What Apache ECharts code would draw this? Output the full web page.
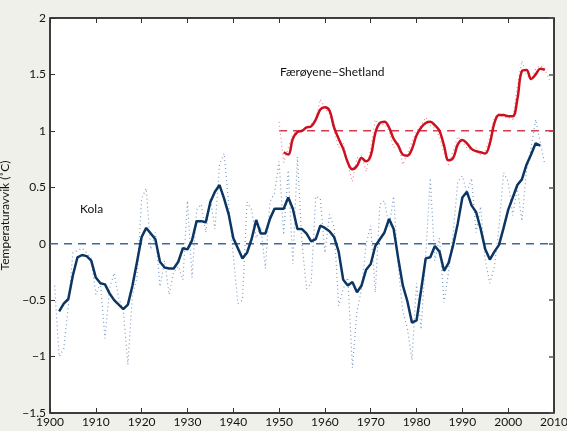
<!DOCTYPE html>
<html>
<head>
<meta charset="utf-8">
<script src="https://cdn.jsdelivr.net/npm/echarts@6/dist/echarts.min.js"></script>
<style>
html,body{margin:0;padding:0;background:#f0f0eb;}
#c{width:567px;height:431px;}
</style>
</head>
<body>
<div id="c"></div>
<script>
var kolaYears = [];
for (var y = 1901; y <= 2008; y++) kolaYears.push(y);
var kolaAnnual = [-0.37,-1.00,-0.93,-0.55,-0.08,-0.06,-0.04,-0.08,-0.13,-0.45,
-0.35,-0.84,-0.40,-0.26,-0.48,-0.60,-1.07,-0.45,-0.30,0.40,
0.49,-0.05,0.10,-0.38,-0.15,-0.45,-0.25,-0.20,-0.32,0.38,
-0.30,0.30,0.35,0.10,0.40,0.13,0.70,0.80,0.35,-0.10,
-0.53,-0.50,0.37,0.30,0.05,0.15,-0.22,0.37,0.45,0.73,
0.08,0.65,-0.18,0.77,0.00,-0.40,-0.35,0.42,0.40,-0.08,
0.26,0.15,-0.55,-0.40,-0.30,-1.10,-0.60,-0.40,0.00,0.16,
-0.43,0.35,0.38,0.15,0.42,-0.20,-0.60,-0.75,-1.03,-0.35,
-0.76,-0.10,0.58,-0.15,0.05,-0.52,-0.25,0.10,0.55,0.60,
0.45,0.58,0.10,0.33,-0.15,-0.35,-0.20,0.15,0.63,0.55,
0.25,0.50,0.20,0.65,0.85,1.10,0.90,0.70];

var kolaSmoothYears = [];
for (var y2 = 1902; y2 <= 2007; y2++) kolaSmoothYears.push(y2);
var kolaSmooth = [-0.60,-0.53,-0.49,-0.28,-0.12,-0.10,-0.11,-0.15,-0.30,-0.35,
-0.36,-0.44,-0.50,-0.54,-0.58,-0.54,-0.37,-0.16,0.06,0.14,
0.09,0.04,-0.16,-0.21,-0.22,-0.22,-0.16,-0.04,-0.05,0.03,
0.20,0.20,0.19,0.37,0.46,0.52,0.40,0.26,0.05,-0.04,
-0.13,-0.08,0.04,0.21,0.09,0.09,0.22,0.31,0.31,0.31,
0.41,0.31,0.13,0.13,0.09,0.02,0.04,0.16,0.14,0.11,
0.06,-0.07,-0.32,-0.37,-0.34,-0.43,-0.37,-0.23,-0.18,-0.02,
0.04,0.10,0.22,0.13,-0.13,-0.37,-0.51,-0.70,-0.68,-0.41,
-0.13,-0.12,-0.02,-0.07,-0.24,-0.17,-0.01,0.18,0.41,0.46,
0.34,0.28,0.13,-0.05,-0.14,-0.07,-0.01,0.14,0.30,0.41,
0.52,0.57,0.70,0.79,0.89,0.87];

var fsYears = [];
for (var y3 = 1950; y3 <= 2009; y3++) fsYears.push(y3);
var fsAnnual = [1.08,0.72,0.85,0.97,1.00,1.01,1.02,1.06,1.10,1.28,
1.20,1.15,1.00,0.85,0.90,0.70,0.55,0.76,0.78,0.64,
0.85,1.10,1.05,1.06,1.00,0.85,0.90,0.70,0.80,0.90,
1.00,1.05,1.12,1.05,1.02,0.95,0.80,0.70,0.82,0.95,
0.90,0.85,0.82,0.85,0.78,0.82,0.95,1.12,1.15,1.12,
1.12,1.10,1.40,1.62,1.50,1.45,1.55,1.58,1.55,1.45];

var fsSmoothYears = [];
for (var y4 = 1951; y4 <= 2008; y4++) fsSmoothYears.push(y4);
var fsSmooth = [0.81,0.79,0.93,0.99,1.00,1.03,1.04,1.10,1.19,1.21,
1.18,1.03,0.93,0.84,0.72,0.66,0.69,0.76,0.73,0.78,
0.98,1.07,1.08,1.03,0.93,0.87,0.79,0.78,0.84,0.96,
1.03,1.07,1.08,1.05,1.00,0.87,0.74,0.76,0.88,0.92,
0.89,0.84,0.82,0.81,0.80,0.89,1.07,1.14,1.14,1.13,
1.13,1.28,1.53,1.54,1.46,1.50,1.55,1.54];

var kolaRef = [[1900,0],[2010,0]];
var fsRef = [[1950,1],[2010,1]];

var xTicks = [1900,1910,1920,1930,1940,1950,1960,1970,1980,1990,2000,2010];
var yTicks = [-1.5,-1,-0.5,0,0.5,1,1.5,2];

function pairs(xs, vs){ return xs.map(function(x,i){return [x, vs[i]];}); }

var font = 'Lato, "Open Sans", sans-serif';
var chart = echarts.init(document.getElementById('c'));
chart.setOption({
  backgroundColor: '#f0f0eb',
  animation: false,
  grid: {left: 50, right: 13, top: 18, bottom: 18, containLabel: false, outerBoundsMode: 'none',
    show: true, backgroundColor: '#ffffff', borderColor: '#000', borderWidth: 1.5},
  xAxis: [{
    type: 'value', min: 1900, max: 2010, interval: 10,
    axisLine: {show: false, onZero: false},
    axisTick: {inside: true, length: 5, lineStyle: {color: '#333'}},
    splitLine: {show: false},
    axisLabel: {color: '#111', fontFamily: font, fontSize: 12, margin: 3, showMaxLabel: true,
      formatter: function(v){ return xTicks.indexOf(v) >= 0 ? String(v) : ''; }}
  },{
    type: 'value', min: 1900, max: 2010, interval: 10, position: 'top',
    axisLine: {show: false, onZero: false},
    axisTick: {inside: true, length: 5, lineStyle: {color: '#333'}},
    splitLine: {show: false}, axisLabel: {show: false}
  }],
  yAxis: [{
    type: 'value', min: -1.5, max: 2, interval: 0.5,
    name: 'Temperaturavvik (˚C)', nameLocation: 'middle', nameGap: 31,
    nameTextStyle: {fontFamily: font, fontSize: 12, color: '#111'},
    axisLine: {show: false, onZero: false},
    axisTick: {inside: true, length: 5, lineStyle: {color: '#333'}},
    splitLine: {show: false},
    axisLabel: {color: '#111', fontFamily: font, fontSize: 12, margin: 4,
      formatter: function(v){ return String(v).replace('-', '\u2212'); }}
  },{
    type: 'value', min: -1.5, max: 2, interval: 0.5, position: 'right',
    axisLine: {show: false, onZero: false},
    axisTick: {inside: true, length: 5, lineStyle: {color: '#555', width: 1.5}},
    splitLine: {show: false}, axisLabel: {show: false}
  }],
  series: [
    {type: 'line', data: kolaRef, symbol: 'none', silent: true,
      lineStyle: {color: '#3d6a9e', width: 1.5, type: [8, 6]}},
    {type: 'line', data: fsRef, symbol: 'none', silent: true,
      lineStyle: {color: '#d23b4b', width: 1.5, type: [8, 6]}},
    {type: 'line', data: pairs(kolaYears, kolaAnnual), symbol: 'none',
      lineStyle: {color: '#7d9cc6', width: 1.2, type: [1, 3]}},
    {type: 'line', data: pairs(fsYears, fsAnnual), symbol: 'none',
      lineStyle: {color: '#ea8a94', width: 1.2, type: [1, 3]}},
    {type: 'line', data: pairs(kolaSmoothYears, kolaSmooth), symbol: 'none',
      lineStyle: {color: '#0b3563', width: 2.5}},
    {type: 'line', data: pairs(fsSmoothYears, fsSmooth), symbol: 'none', smooth: 0.4,
      lineStyle: {color: '#cc1020', width: 2.5}}
  ],
  graphic: [
    {type: 'text', left: 80, top: 203, style: {text: 'Kola', fontFamily: font, fontSize: 12, fill: '#111'}},
    {type: 'text', left: 280, top: 66, style: {text: 'Færøyene\u2212Shetland', fontFamily: font, fontSize: 12, fill: '#111'}}
  ]
});
</script>
</body>
</html>
